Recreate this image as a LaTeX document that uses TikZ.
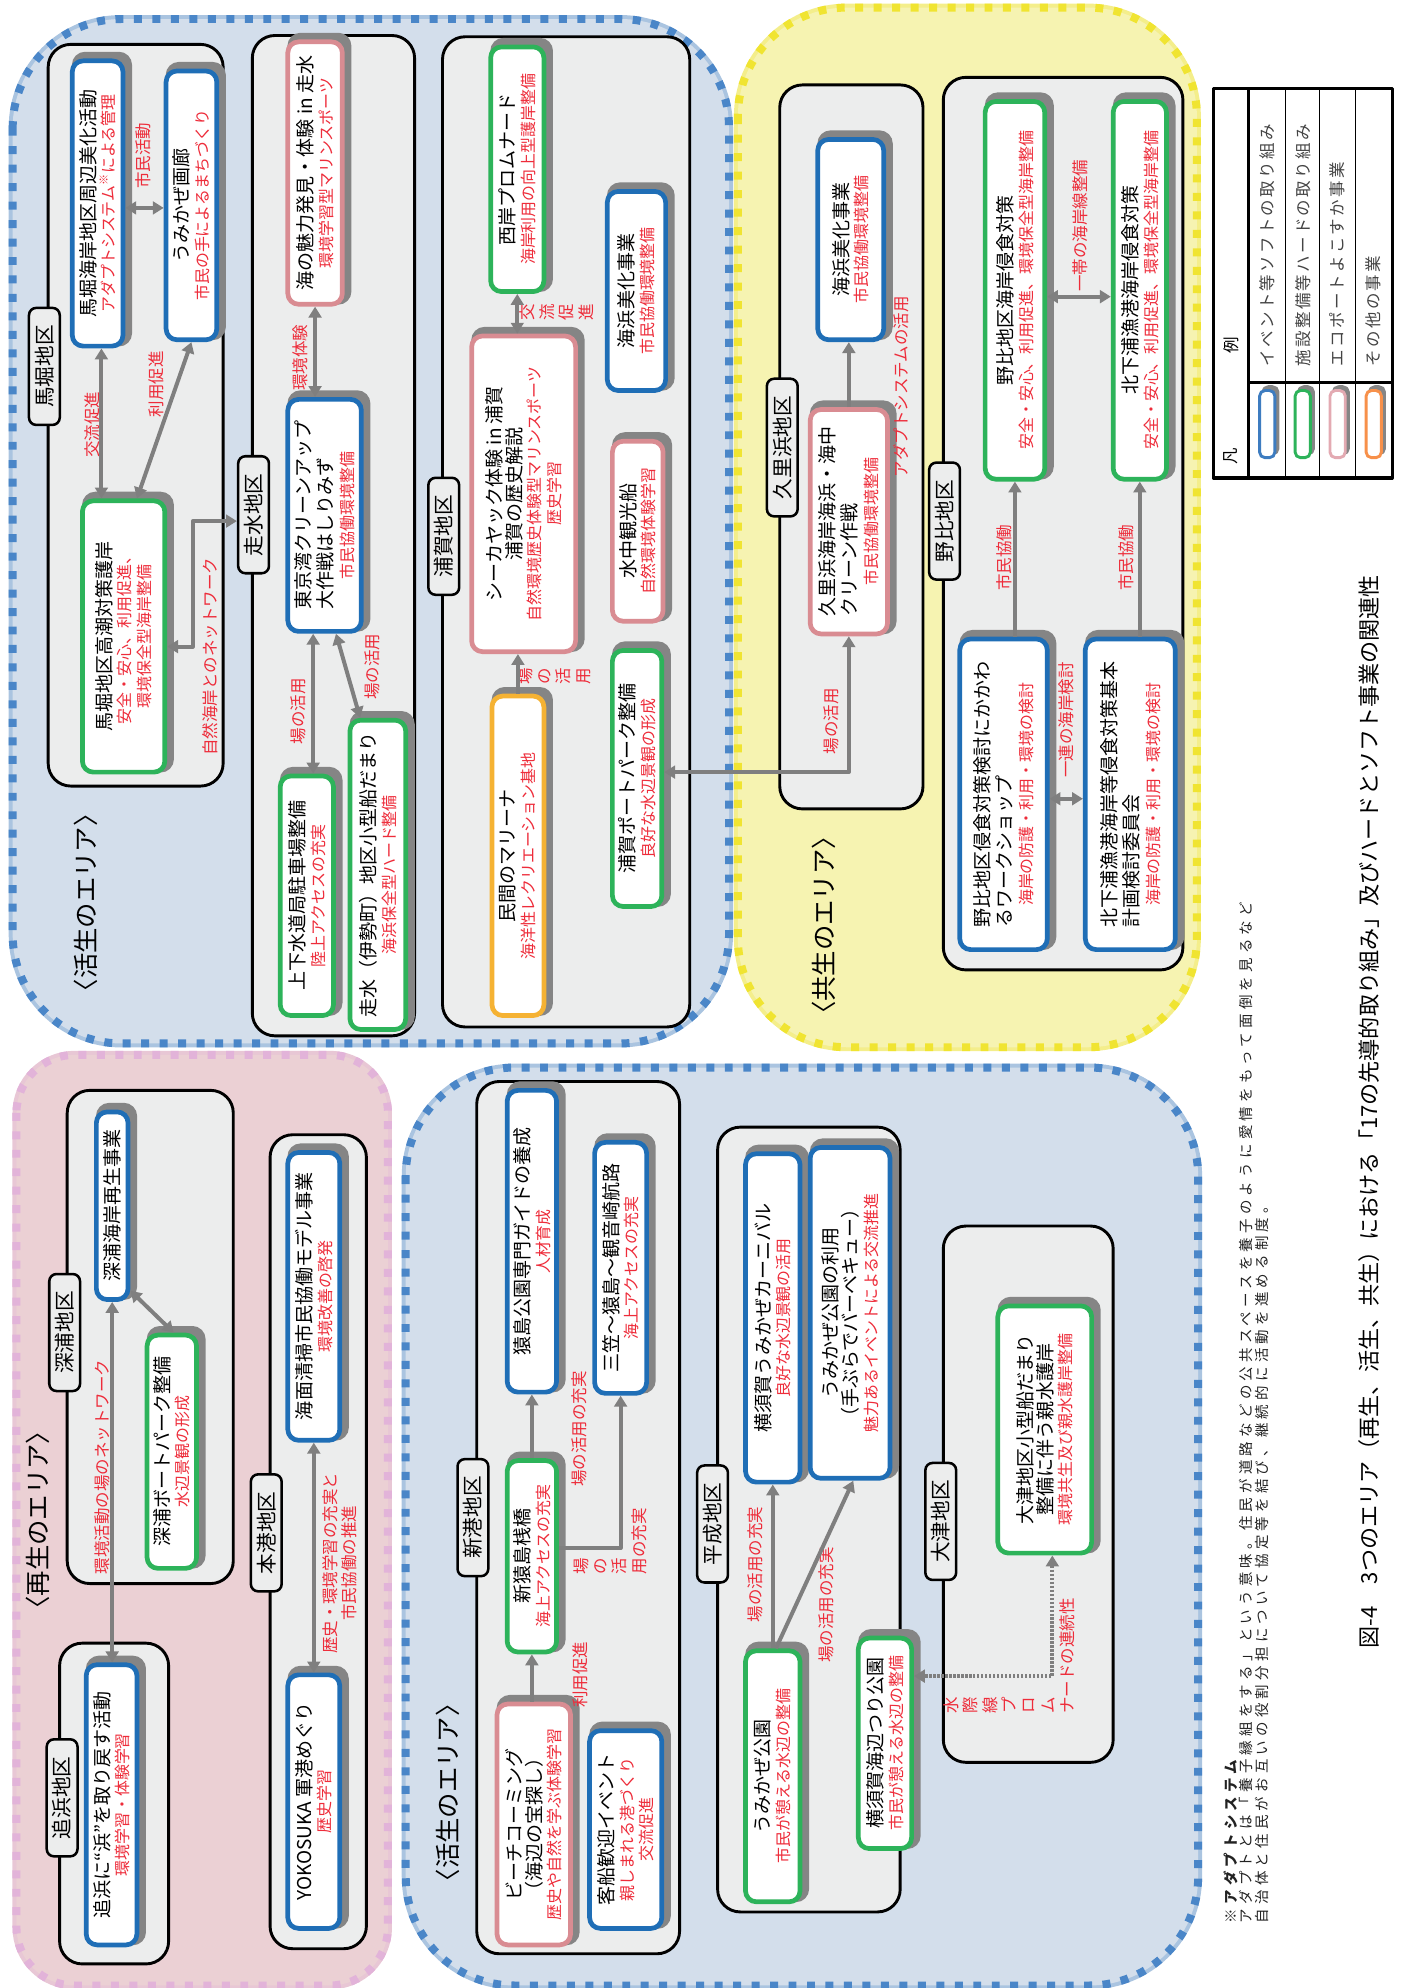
\documentclass[tikz,border=0pt]{standalone}
\usepackage{fontspec}
\setmainfont{Noto Sans CJK JP}
\newfontfamily\notefam[LetterSpace=29]{Noto Sans CJK JP}
\newfontfamily\legfam[LetterSpace=14]{Noto Sans CJK JP}
\usetikzlibrary{arrows.meta,backgrounds}

\definecolor{areablue}{HTML}{D3DEEB}
\definecolor{dashblue}{HTML}{4A86C8}
\definecolor{areayel}{HTML}{F6F3B1}
\definecolor{dashyel}{HTML}{F0E431}
\definecolor{areapink}{HTML}{EBD0D4}
\definecolor{dashpink}{HTML}{E2B3D9}
\definecolor{grpfill}{HTML}{ECEDED}
\definecolor{softblue}{HTML}{1F6EB6}
\definecolor{hardgreen}{HTML}{2DB35A}
\definecolor{ecopink}{HTML}{D98C92}
\definecolor{othorange}{HTML}{F5B233}
\definecolor{lgblue}{HTML}{3D7CC0}
\definecolor{lgpink}{HTML}{E3AAB2}
\definecolor{lgorange}{HTML}{F7904A}
\definecolor{redtxt}{HTML}{EE2C3A}
\definecolor{arrgray}{HTML}{7F7F7F}
\definecolor{shgray}{HTML}{858585}
\definecolor{leggray}{HTML}{444444}
\definecolor{notegray}{HTML}{222222}

\newcommand\boxfnt{\fontsize{10.5pt}{10.9pt}\selectfont}
\newcommand\rdf{\fontsize{8.8pt}{10.9pt}\selectfont\color{redtxt}}
\newcommand\lblfnt{\fontsize{11.4pt}{12pt}\selectfont}
\newcommand\arfnt{\fontsize{14pt}{15pt}\selectfont}
\newcommand\labfnt{\fontsize{9.1pt}{10.7pt}\selectfont}
\newcommand\capfnt{\fontsize{12.2pt}{13pt}\selectfont}
\newcommand\notefnt{\notefam\fontsize{8pt}{8.5pt}\selectfont}
\newcommand\legfnt{\legfam\fontsize{9.1pt}{10pt}\selectfont}
% box from its corners: style, name, x1, x2, y1, y2, text
\newcommand\ebx[7]{\node[#1, minimum width={(#6-#5)*0.7pt}, minimum height={(#4-#3)*0.7pt}] (#2) at ({(#3+#4)/2},{(#5+#6)/2}) {#7};}

\begin{document}
\begin{tikzpicture}[x=0.7pt, y=-0.7pt, line join=round,
  every node/.style={rotate=90},
  area/.style 2 args={fill=#1, draw=#2, line width=4.4pt, dash pattern=on 4.4pt off 5.8pt, rounded corners=60pt, preaction={draw=#1!70!#2, line width=4.4pt, solid}},
  grp/.style={fill=grpfill, draw=black, line width=1.6pt, rounded corners=12.5pt},
  ebox/.style={draw, fill=white, line width=2.6pt, rounded corners=6pt, align=center, font=\boxfnt, inner sep=1pt},
  soft/.style={ebox, draw=softblue}, hard/.style={ebox, draw=hardgreen},
  eco/.style={ebox, draw=ecopink}, other/.style={ebox, draw=othorange},
  lbl/.style={draw=black, fill=grpfill, line width=1.4pt, rounded corners=4pt, font=\lblfnt, inner xsep=9.5pt, inner ysep=1pt, minimum height=17pt},
  alab/.style={font=\labfnt, text=redtxt, align=center, inner sep=0pt},
  arlab/.style={font=\arfnt},
  arr/.style={draw=arrgray, line width=2.2pt, -{Triangle[length=6pt,width=7pt]}},
  darr/.style={arr, {Triangle[length=6pt,width=7pt]}-{Triangle[length=6pt,width=7pt]}},
  dotarr/.style={dash pattern=on 1.3pt off 0.9pt},
  shad/.style={draw=shgray, fill=shgray, line width=2.6pt, rounded corners=6pt}]
\useasboundingbox (0,0) rectangle (1106,1568);

% 活生 (top)
\ebx{soft}{a1}{57}{97}{48}{273}{馬堀海岸地区周辺美化活動\\{\rdf アダプトシステム\textsuperscript{※}による管理}}
\ebx{soft}{a2}{131}{171}{56}{268}{うみかぜ画廊\\{\rdf 市民の手によるまちづくり}}
\ebx{hard}{a3}{65}{130}{395}{609}{馬堀地区高潮対策護岸\\{\rdf 安全・安心、利用促進、}\\{\rdf 環境保全型海岸整備}}
\ebx{eco}{b1}{227}{270}{33}{240}{海の魅力発見・体験 in 走水\\{\rdf 環境学習型マリンスポーツ}}
\ebx{soft}{b2}{227}{285}{315}{498}{\begin{tabular}{@{}l@{}}東京湾クリーンアップ\\大作戦はしりみず\end{tabular}\\{\rdf 市民協働環境整備}}
\ebx{hard}{b3}{221}{263}{612}{801}{上下水道局駐車場整備\\{\rdf 陸上アクセスの充実}}
\ebx{hard}{b4}{276}{320}{568}{812}{走水（伊勢町）地区小型船だまり\\{\rdf 海浜保全型ハード整備}}
\ebx{hard}{c1}{387}{429}{37}{230}{西岸プロムナード\\{\rdf 海岸利用の向上型護岸整備}}
\ebx{eco}{c2}{372}{454}{265}{514}{シーカヤック体験 in 浦賀\\浦賀の歴史解説\\{\rdf 自然環境歴史体験型マリンスポーツ}\\{\rdf 歴史学習}}
\ebx{soft}{c3}{479}{525}{151}{308}{海浜美化事業\\{\rdf 市民協働環境整備}}
\ebx{eco}{c4}{483}{523}{348}{490}{水中観光船\\{\rdf 自然環境体験学習}}
\ebx{other}{c5}{388}{429}{549}{801}{民間のマリーナ\\{\rdf 海洋性レクリエーション基地}}
\ebx{hard}{c6}{483}{522}{513}{715}{浦賀ポートパーク整備\\{\rdf 良好な水辺景観の形成}}
% 共生
\ebx{soft}{d1}{645}{697}{110}{268}{海浜美化事業\\{\rdf 市民協働環境整備}}
\ebx{eco}{d2}{639}{700}{323}{500}{\begin{tabular}{@{}l@{}}久里浜海岸海浜・海中\\クリーン作戦\end{tabular}\\{\rdf 市民協働環境整備}}
\ebx{hard}{e1}{777}{824}{80}{378}{野比地区海岸侵食対策\\{\rdf 安全・安心、利用促進、環境保全型海岸整備}}
\ebx{hard}{e2}{878}{920}{80}{378}{北下浦漁港海岸侵食対策\\{\rdf 安全・安心、利用促進、環境保全型海岸整備}}
\ebx{soft}{e3}{757}{826}{504}{749}{\begin{tabular}{@{}l@{}}野比地区侵食対策検討にかかわ\\るワークショップ\end{tabular}\\{\rdf 海岸の防護・利用・環境の検討}}
\ebx{soft}{e4}{856}{927}{504}{749}{\begin{tabular}{@{}l@{}}北下浦漁港海岸等侵食対策基本\\計画検討委員会\end{tabular}\\{\rdf 海岸の防護・利用・環境の検討}}
% 再生
\ebx{soft}{f1}{76}{101}{877}{1025}{深浦海岸再生事業}
\ebx{hard}{f2}{116}{155}{1053}{1237}{深浦ボートパーク整備\\{\rdf 水辺景観の形成}}
\ebx{soft}{g1}{68}{108}{1313}{1534}{追浜に“浜”を取り戻す活動\\{\rdf 環境学習・体験学習}}
\ebx{soft}{h1}{227}{268}{909}{1136}{海面清掃市民協働モデル事業\\{\rdf 環境改善の啓発}}
\ebx{soft}{h2}{227}{268}{1321}{1521}{YOKOSUKA 軍港めぐり\\{\rdf 歴史学習}}
% 活生 (bottom)
\ebx{soft}{i1}{400}{439}{860}{1098}{猿島公園専門ガイドの養成\\{\rdf 人材育成}}
\ebx{soft}{i2}{469}{510}{901}{1099}{三笠～猿島～観音崎航路\\{\rdf 海上アクセスの充実}}
\ebx{hard}{i3}{400}{439}{1152}{1303}{新猿島桟橋\\{\rdf 海上アクセスの充実}}
\ebx{eco}{i4}{392}{450}{1344}{1534}{ビーチコーミング\\（海辺の宝探し）\\{\rdf 歴史や自然を学ぶ体験学習}}
\ebx{soft}{i5}{465}{522}{1365}{1521}{客船歓迎イベント\\{\rdf 親しまれる港づくり}\\{\rdf 交流促進}}
\ebx{soft}{j1}{588}{631}{910}{1169}{横須賀うみかぜカーニバル\\{\rdf 良好な水辺景観の活用}}
\ebx{soft}{j2}{639}{702}{905}{1166}{うみかぜ公園の利用\\（手ぶらでバーベキュー）\\{\rdf 魅力あるイベントによる交流推進}}
\ebx{hard}{j3}{588}{631}{1302}{1500}{うみかぜ公園\\{\rdf 市民が憩える水辺の整備}}
\ebx{hard}{j4}{677}{719}{1292}{1458}{横須賀海辺つり公園\\{\rdf 市民が憩える水辺の整備}}
\ebx{hard}{k1}{787}{861}{1030}{1225}{大津地区小型船だまり\\整備に伴う親水護岸\\{\rdf 環境共生及び親水護岸整備}}

% district labels
\node[lbl] (lbMabori) at (35,289) {馬堀地区};
\node[lbl] (lbHashiri) at (200,406) {走水地区};
\node[lbl] (lbUraga) at (350,423) {浦賀地区};
\node[lbl] (lbKurihama) at (617,353) {久里浜地区};
\node[lbl] (lbNobi) at (745,411) {野比地区};
\node[lbl] (lbFukaura) at (51,1051) {深浦地区};
\node[lbl] (lbOppama) at (49,1418) {追浜地区};
\node[lbl] (lbHonko) at (210,1209) {本港地区};
\node[lbl] (lbShinko) at (373,1197) {新港地区};
\node[lbl] (lbHeisei) at (562,1202) {平成地区};
\node[lbl] (lbOtsu) at (742,1200) {大津地区};

% area titles
\node[arlab] (arKassei) at (68,712) {〈活生のエリア〉};
\node[arlab] (arKyosei) at (650,730) {〈共生のエリア〉};
\node[arlab] (arSaisei) at (30,1199) {〈再生のエリア〉};
\node[arlab] (arKassei2) at (353,1414) {〈活生のエリア〉};

% connector labels
\node[alab] (tShimin) at (113,123) {市民活動};
\node[alab] (tKoryu) at (73,335) {交流促進};
\node[alab] (tRiyo) at (123,303) {利用促進};
\node[alab] (tShizen) at (166,518) {自然海岸とのネットワーク};
\node[alab] (tKankyo) at (237,282) {環境体験};
\node[alab] (tBa1) at (235,561) {場の活用};
\node[alab] (tBa2) at (294,526) {場の活用};
\node[alab, align=left] (tKoryu2) at (439,246) {交\\流\\促\\進};
\node[alab, align=left] (tBa3) at (437,533) {場\\の\\活\\用};
\node[alab] (tBa4) at (656,569) {場の活用};
\node[alab] (tAdapt) at (711,305) {アダプトシステムの活用};
\node[alab] (tItai) at (852,178) {一帯の海岸線整備};
\node[alab] (tIren) at (841,568) {一連の海岸検討};
\node[alab] (tKyodo1) at (792,440) {市民協働};
\node[alab] (tKyodo2) at (888,440) {市民協働};
\node[alab] (tNet) at (81,1157) {環境活動の場のネットワーク};
\node[alab] (tRekishi) at (268,1233) {歴史・環境学習の充実と\\市民協働の推進};
\node[alab] (tJuj1) at (457,1127) {場の活用の充実};
\node[alab, align=left, anchor=north west] (tJuj2) at (452,1242) {場\\の\\活\\用の充実};
\node[alab] (tRiyo2) at (458,1321) {利用促進};
\node[alab] (tJuj3) at (596,1234) {場の活用の充実};
\node[alab] (tJuj4) at (652,1266) {場の活用の充実};
\node[alab, align=left, anchor=north west] (tMizu) at (744,1352) {水\\際\\線\\プ\\ロ\\ム\\ナードの連続性};

% connectors
\draw[darr] (a1.south |- 0,164) -- (a2.north |- 0,164);
\draw[darr] (80,0 |- a1.west) -- (80,0 |- a3.east);
\draw[darr] (a2.west) -- (108,0 |- a3.east);
\draw[darr] (a3.south |- 0,510) -- (152,510) -- (152,411) -- (lbHashiri.north |- 0,411);
\draw[darr] (b1.west) -- (b1.west |- b2.east);
\draw[darr] (247,0 |- b2.west) -- (247,0 |- b3.east);
\draw[darr] (265,0 |- b2.west) -- (284,0 |- b4.east);
\draw[darr] (c1.west) -- (c1.west |- c2.east);
\draw[arr] (c5.east) -- (c5.east |- c2.west);
\draw[darr] (d2.west) -- (d2.west |- 0,609) -- (c6.south |- 0,609);
\draw[arr] (d2.east) -- (d2.east |- d1.west);
\draw[darr] (e1.south |- 0,234) -- (e2.north |- 0,234);
\draw[darr] (e3.south |- 0,630) -- (e4.north |- 0,630);
\draw[arr] (e1.west |- e3.east) -- (e1.west);
\draw[arr] (e2.west |- e4.east) -- (e2.west);
\draw[darr] (f1.south |- 0,1018) -- (137,0 |- f2.east);
\draw[darr] (f1.west) -- (f1.west |- g1.east);
\draw[darr] (h1.west) -- (h2.east);
\draw[arr] (i3.east) -- (i1.west);
\draw[arr] (i3.south |- 0,1221) -- (i2.west |- 0,1221) -- (i2.west);
\draw[arr] (i3.west |- i4.east) -- (i3.west);
\draw[arr] (j3.east) -- (j1.west);
\draw[arr] (612,0 |- j3.east) -- (673,0 |- j2.west);
\draw[darr, dotarr] (k1.west -| 830,0) -- (830,1322) -- (j4.south |- 0,1322);

% legend
\draw[line width=1.7pt] (957,70) rectangle (1098,377);
\draw[line width=1.7pt] (985,70) -- (985,377) (985,302) -- (1098,302);
\foreach \x in {1014,1041,1069} \draw[line width=0.7pt] (\x,70) -- (\x,377);
\node[font=\legfnt] (lgHan) at (971,360) {凡};
\node[font=\legfnt] (lgRei) at (971,272) {例};
\foreach \x/\col/\txt [count=\i] in {999.5/lgblue/イベント等ソフトの取り組み, 1027.5/hardgreen/施設整備等ハードの取り組み, 1055/lgpink/エコポートよこすか事業, 1083.5/lgorange/その他の事業}{
  \draw[shad, line width=1.6pt, rounded corners=3pt] (\x-3.5,305) rectangle (\x+8.5,358);
  \draw[draw=\col, fill=white, line width=1.6pt, rounded corners=3pt] (\x-6,308) rectangle (\x+6,361);
  \node[anchor=west, font=\legfnt, text=leggray] (lg\i) at (\x,294) {\txt};
}

% notes
\node[anchor=north west, align=left, font=\notefnt, text=notegray] (fnote) at (960,1522) {{\bfseries ※アダプトシステム}\\アダプトとは「養子縁組をする」という意味。住民が道路などの公共スペースを養子のように愛情をもって面倒を見るなど\\自治体と住民がお互いの役割分担について協定等を結び、継続的に活動を進める制度。};
\node[anchor=west, font=\capfnt] (cap) at (1080,1305) {図-4　3つのエリア（再生、活生、共生）における「17の先導的取り組み」及びハードとソフト事業の関連性};

\begin{scope}[on background layer]
  \draw[area={areablue}{dashblue}] (10,15) rectangle (575,823);
  \draw[area={areayel}{dashyel}] (582,6) rectangle (944,826);
  \draw[area={areapink}{dashpink}, rounded corners=32pt] (13,832) rectangle (306,1566);
  \draw[area={areablue}{dashblue}] (320,842) rectangle (945,1566);
  \draw[grp] (38,35) rectangle (176,620);
  \draw[grp] (199,28) rectangle (327,817);
  \draw[grp] (349,29) rectangle (544,810);
  \draw[grp] (615,67) rectangle (728,638);
  \draw[grp] (744,61) rectangle (933,765);
  \draw[grp] (53,860) rectangle (184,1249);
  \draw[grp] (47,1296) rectangle (133,1549);
  \draw[grp] (213,895) rectangle (289,1537);
  \draw[grp] (376,853) rectangle (536,1541);
  \draw[grp] (566,889) rectangle (710,1508);
  \draw[grp] (744,967) rectangle (878,1390);
  \foreach \b in {a1,a2,a3,b1,b2,b3,b4,c1,c2,c3,c4,c5,c6,d1,d2,e1,e2,e3,e4,f1,f2,g1,h1,h2,i1,i2,i3,i4,i5,j1,j2,j3,j4,k1}
    \draw[shad] ([xshift=2.4pt,yshift=2.4pt]\b.north east) rectangle ([xshift=2.4pt,yshift=2.4pt]\b.south west);
\end{scope}
\end{tikzpicture}
\end{document}
